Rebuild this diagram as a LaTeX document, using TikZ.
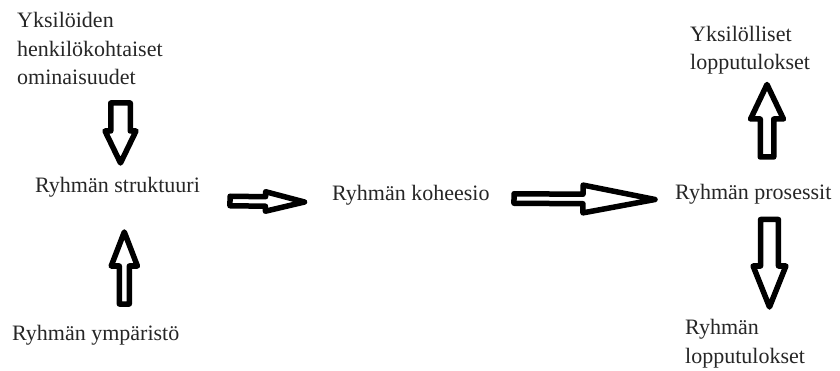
\documentclass[tikz,border=0pt]{standalone}
\usepackage{fontspec}
\setmainfont{Liberation Serif}
\usetikzlibrary{calc}
\tikzset{
  lbl/.style={inner sep=0pt, anchor=base west, align=left, text=black!85,
    font=\fontsize{22}{28.5}\selectfont},
  fat/.style={draw=black, fill=white, line width=5.5pt, line join=round}
}
% tail, tip, shaft half-width, head half-width, head length (all in pt)
\newcommand\fatarrow[5]{%
  \draw[fat] let \p1=(#1), \p2=(#2),
    \n1={atan2(\y2-\y1,\x2-\x1)},
    \n2={veclen(\x2-\x1,\y2-\y1)-#5pt} in
    ($(\p1)+(\n1+90:#3pt)$) --
    ($(\p1)+(\n1:\n2)+(\n1+90:#3pt)$) --
    ($(\p1)+(\n1:\n2)+(\n1+90:#4pt)$) --
    (\p2) --
    ($(\p1)+(\n1:\n2)+(\n1-90:#4pt)$) --
    ($(\p1)+(\n1:\n2)+(\n1-90:#3pt)$) --
    ($(\p1)+(\n1-90:#3pt)$) -- cycle;}
\begin{document}
\begin{tikzpicture}[x=1pt,y=-1pt]
\useasboundingbox[fill=white] (0,0) rectangle (840,371);
% texts (anchor = baseline of the last line)
\node[lbl] (ind) at (17,85) {Yksilöiden\\henkilökohtaiset\\ominaisuudet};
\node[lbl] (str) at (35,193) {Ryhmän struktuuri};
\node[lbl] (env) at (12,340) {Ryhmän ympäristö};
\node[lbl] (coh) at (332,201) {Ryhmän koheesio};
\node[lbl] (proc) at (675,200) {Ryhmän prosessit};
\node[lbl] (indout) at (690,70) {Yksilölliset\\lopputulokset};
\node[lbl] (grpout) at (685,363) {Ryhmän\\lopputulokset};
% arrow end points
\coordinate (a1s) at (120.5,103); \coordinate (a1e) at (120.5,163);
\coordinate (a2s) at (124.3,304); \coordinate (a2e) at (124.3,232);
\coordinate (a3s) at (230,201);   \coordinate (a3e) at (304.5,202);
\coordinate (a4s) at (514,198.5); \coordinate (a4e) at (655,199.5);
\coordinate (a5s) at (767,157);   \coordinate (a5e) at (767,84.5);
\coordinate (a6s) at (769.5,219.5); \coordinate (a6e) at (769.5,307);
% arrows
\fatarrow{a1s}{a1e}{9.75}{15.5}{32}
\fatarrow{a2s}{a2e}{5}{13.1}{34}
\fatarrow{a3s}{a3e}{4.75}{9.75}{39}
\fatarrow{a4s}{a4e}{4.75}{13.9}{72}
\fatarrow{a5s}{a5e}{6.75}{16.45}{34.5}
\fatarrow{a6s}{a6e}{8.95}{16.4}{41}
\end{tikzpicture}
\end{document}
